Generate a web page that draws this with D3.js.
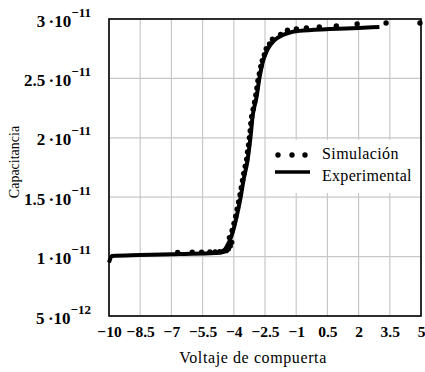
<!DOCTYPE html>
<html><head><meta charset="utf-8">
<script src="https://cdn.jsdelivr.net/npm/d3@7"></script>
<style>body{margin:0;background:#fff}svg{display:block}text{font-family:"Liberation Serif","Times New Roman",serif;fill:#000}</style>
</head><body>
<script>
// Experimental curve (V, F)
const expV = [-10, -9.86, -8.5, -6.6, -4.9, -4.58, -4.35, -4.06, -3.87, -3.67, -3.53, -3.34, -3.2, -3.1, -2.91, -2.77, -2.62, -2.39, -2.05, -1.23, -0.85, 0.6, 2.0, 3.0];
const expC = [0.95e-11, 1.005e-11, 1.013e-11, 1.022e-11, 1.03e-11, 1.035e-11, 1.08e-11, 1.2e-11, 1.33e-11, 1.5e-11, 1.645e-11, 1.81e-11, 2.0e-11, 2.175e-11, 2.34e-11, 2.5e-11, 2.63e-11, 2.74e-11, 2.82e-11, 2.89e-11, 2.9e-11, 2.915e-11, 2.925e-11, 2.933e-11];
// Simulation points (V, F)
const simV = [-6.7, -6.0, -5.55, -5.15, -4.9, -4.68, -4.5, -4.36, -4.26, -4.17, -4.1,
  -4.21, -4.08, -3.99, -3.91, -3.84, -3.77, -3.70, -3.64, -3.58, -3.52, -3.45, -3.38, -3.34, -3.29, -3.25,
  -3.21, -3.18, -3.14, -3.07, -3.0, -2.94, -2.89, -2.84, -2.77, -2.70, -2.63, -2.53, -2.44, -2.28, -2.14, -1.75,
  -1.42, -0.99, -0.51, 0.11, 0.93, 1.93, 3.32, 4.95];
const simC = [1.035e-11, 1.037e-11, 1.038e-11, 1.04e-11, 1.04e-11, 1.042e-11, 1.045e-11, 1.05e-11, 1.065e-11, 1.09e-11, 1.12e-11,
  1.16e-11, 1.22e-11, 1.28e-11, 1.34e-11, 1.40e-11, 1.46e-11, 1.52e-11, 1.58e-11, 1.64e-11, 1.70e-11, 1.76e-11, 1.82e-11, 1.88e-11, 1.94e-11, 2.00e-11,
  2.06e-11, 2.12e-11, 2.18e-11, 2.24e-11, 2.30e-11, 2.36e-11, 2.42e-11, 2.48e-11, 2.54e-11, 2.60e-11, 2.65e-11, 2.70e-11, 2.75e-11, 2.79e-11, 2.83e-11, 2.87e-11,
  2.905e-11, 2.916e-11, 2.924e-11, 2.933e-11, 2.941e-11, 2.958e-11, 2.966e-11, 2.966e-11];
const xTicks = [-10, -8.5, -7, -5.5, -4, -2.5, -1, 0.5, 2, 3.5, 5];
const yTicks = [5e-12, 1e-11, 1.5e-11, 2e-11, 2.5e-11, 3e-11];
const yMant = ["5", "1", "1.5", "2", "2.5", "3"];
const yExp = ["\u221212", "\u221211", "\u221211", "\u221211", "\u221211", "\u221211"];
const legendLabels = ["Simulación", "Experimental"];
const xTitle = "Voltaje de compuerta";
const yTitle = "Capacitancia";

const W = 425, H = 372;
const m = {l: 109, r: 421, t: 19, b: 316};
const svg = d3.select("body").append("svg").attr("width", W).attr("height", H);
svg.append("rect").attr("width", W).attr("height", H).attr("fill", "#fff");
const x = d3.scaleLinear().domain([-10, 5]).range([m.l, m.r]);
const y = d3.scaleLinear().domain([5e-12, 3e-11]).range([m.b, m.t]);

// grid
svg.append("g").selectAll("line").data(xTicks).join("line")
  .attr("x1", d => x(d)).attr("x2", d => x(d)).attr("y1", m.t).attr("y2", m.b)
  .attr("stroke", "#c8c8c8").attr("stroke-width", 1.2);
svg.append("g").selectAll("line").data(yTicks).join("line")
  .attr("y1", d => y(d)).attr("y2", d => y(d)).attr("x1", m.l).attr("x2", m.r)
  .attr("stroke", "#c8c8c8").attr("stroke-width", 1.2);

// legend background (covers grid)
svg.append("rect").attr("x", 270).attr("y", 140).attr("width", m.r - 270).attr("height", 53).attr("fill", "#fff");

// experimental line
const line = d3.line().x(d => x(d[0])).y(d => y(d[1])).curve(d3.curveMonotoneX);
svg.append("path").datum(expV.map((v, i) => [v, expC[i]]))
  .attr("d", line).attr("fill", "none").attr("stroke", "#000").attr("stroke-width", 4).attr("stroke-linejoin", "round");

// simulation dots
svg.append("g").selectAll("circle").data(simV.map((v, i) => [v, simC[i]])).join("circle")
  .attr("cx", d => x(d[0])).attr("cy", d => y(d[1])).attr("r", 2.7).attr("fill", "#000");

// frame
svg.append("rect").attr("x", m.l).attr("y", m.t).attr("width", m.r - m.l).attr("height", m.b - m.t)
  .attr("fill", "none").attr("stroke", "#000").attr("stroke-width", 1.6);

// x axis labels
const xAxis = d3.axisBottom(x).tickValues(xTicks).tickSize(0).tickPadding(0)
  .tickFormat(d => (d < 0 ? "\u2212" : "") + Math.abs(d));
const gx = svg.append("g").attr("transform", `translate(0,${m.b})`).call(xAxis);
gx.select(".domain").remove();
gx.selectAll("text").attr("y", 21).attr("dy", null)
  .style("font-family", '"Liberation Serif",serif').style("font-size", "15.5px").style("font-weight", "bold");

// y axis labels
const yAxis = d3.axisLeft(y).tickValues(yTicks).tickSize(0).tickFormat("");
const gy = svg.append("g").attr("transform", `translate(${m.l},0)`).call(yAxis);
gy.select(".domain").remove();
gy.selectAll(".tick text").each(function(d, i) {
  const t = d3.select(this).attr("x", -18).attr("dy", null).attr("y", 7)
    .attr("text-anchor", "end")
    .style("font-family", '"Liberation Serif",serif').style("font-size", "17px").style("font-weight", "bold");
  t.text(null);
  t.append("tspan").text(yMant[i] + "\u2009\u00b710");
  t.append("tspan").attr("dy", -10).attr("dx", 0).style("font-size", "13px").text(yExp[i]);
});

// axis titles
svg.append("text").attr("x", 253).attr("y", 363).attr("text-anchor", "middle")
  .style("font-size", "16px").style("letter-spacing", "0.6px").text(xTitle);
svg.append("text").attr("transform", "translate(19,162) rotate(-90)").attr("text-anchor", "middle")
  .style("font-size", "14px").text(yTitle);

// legend
const lg = svg.append("g");
lg.selectAll("circle").data([278, 292, 305]).join("circle")
  .attr("cx", d => d).attr("cy", 155).attr("r", 2.7).attr("fill", "#000");
lg.append("line").attr("x1", 275).attr("x2", 310).attr("y1", 172).attr("y2", 172)
  .attr("stroke", "#000").attr("stroke-width", 3.5);
lg.append("text").attr("x", 322).attr("y", 159).style("font-size", "16px").style("letter-spacing", "0.4px").text(legendLabels[0]);
lg.append("text").attr("x", 322).attr("y", 181).style("font-size", "16px").style("letter-spacing", "0.3px").text(legendLabels[1]);
</script>
</body></html>
